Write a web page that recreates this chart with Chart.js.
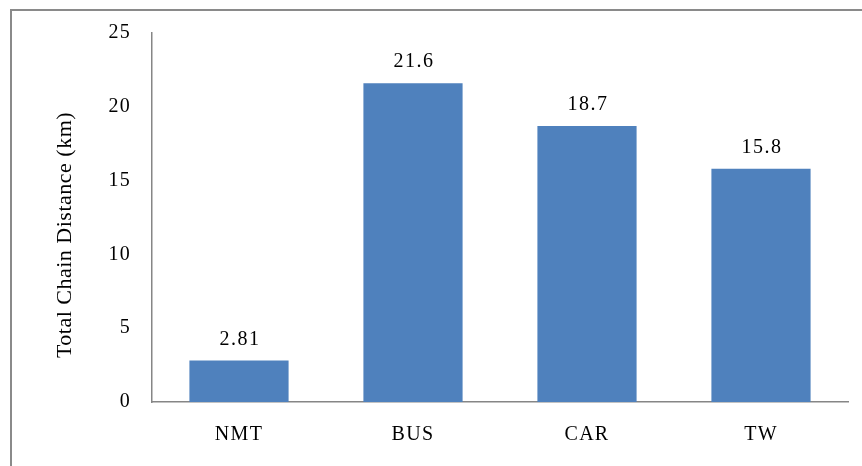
<!DOCTYPE html>
<html>
<head>
<meta charset="utf-8">
<script src="https://cdn.jsdelivr.net/npm/chart.js@4.4.0/dist/chart.umd.min.js"></script>
<style>
  html, body { margin: 0; padding: 0; background: #ffffff; }
  #wrap { position: relative; width: 862px; height: 466px; overflow: hidden; }
  #frame { position: absolute; left: 10px; top: 9px; width: 900px; height: 500px;
           border-top: 2px solid #8a8a8a; border-left: 2px solid #8a8a8a; box-sizing: border-box; pointer-events: none; }
  canvas { position: absolute; left: 0; top: 0; }
</style>
</head>
<body>
<div id="wrap">
  <canvas id="c" width="862" height="466"></canvas>
  <div id="frame"></div>
</div>
<script>
const categories = ["NMT", "BUS", "CAR", "TW"];
const distances = [2.81, 21.6, 18.7, 15.8];
const valueLabels = ["2.81", "21.6", "18.7", "15.8"];
const yTicks = [0, 5, 10, 15, 20, 25];
const yTitle = "Total Chain Distance (km)";

const serif = "'Liberation Serif', 'Times New Roman', serif";

const spacingPlugin = {
  id: 'spacing',
  beforeDraw(chart) {
    if ('letterSpacing' in chart.ctx) chart.ctx.letterSpacing = '1.3px';
  }
};

const yTitlePlugin = {
  id: 'yTitle',
  afterDraw(chart) {
    const ctx = chart.ctx;
    ctx.save();
    if ('letterSpacing' in ctx) ctx.letterSpacing = '0.5px';
    ctx.font = "22px " + serif;
    ctx.fillStyle = "#000000";
    ctx.textAlign = "center";
    ctx.textBaseline = "middle";
    ctx.translate(65, 235);
    ctx.rotate(-Math.PI / 2);
    ctx.fillText(yTitle, 0, 0);
    ctx.restore();
  }
};

const valueLabelPlugin = {
  id: 'valueLabels',
  afterDatasetsDraw(chart) {
    const ctx = chart.ctx;
    const meta = chart.getDatasetMeta(0);
    ctx.save();
    if ('letterSpacing' in ctx) ctx.letterSpacing = '1.5px';
    ctx.font = "20px " + serif;
    ctx.fillStyle = "#000000";
    ctx.textAlign = "center";
    ctx.textBaseline = "middle";
    meta.data.forEach((bar, i) => {
      ctx.fillText(valueLabels[i], bar.x + 1, bar.y - 21);
    });
    ctx.restore();
  }
};

new Chart(document.getElementById('c'), {
  type: 'bar',
  data: {
    labels: categories,
    datasets: [{
      data: distances,
      backgroundColor: '#4F81BD',
      borderWidth: 0,
      barPercentage: 0.57,
      categoryPercentage: 1.0
    }]
  },
  options: {
    responsive: false,
    animation: false,
    devicePixelRatio: 1,
    layout: { padding: { left: 52, top: 32, right: 14, bottom: 0 } },
    plugins: {
      legend: { display: false },
      tooltip: { enabled: false },
      title: { display: false }
    },
    scales: {
      x: {
        grid: { display: false, drawTicks: false },
        border: { display: true, color: '#868686', width: 1.5 },
        ticks: { color: '#000000', font: { family: serif, size: 20 }, padding: 21 },
        afterFit(scale) { scale.height = 64; }
      },
      y: {
        min: 0,
        max: 25,
        afterBuildTicks(scale) { scale.ticks = yTicks.map(v => ({ value: v })); },
        grid: { display: false, drawTicks: false },
        border: { display: true, color: '#868686', width: 1.5 },
        ticks: { color: '#000000', font: { family: serif, size: 20 }, padding: 21 },
        title: { display: false },
        afterFit(scale) { scale.width = 100; }
      }
    }
  },
  plugins: [spacingPlugin, valueLabelPlugin, yTitlePlugin]
});
</script>
</body>
</html>
